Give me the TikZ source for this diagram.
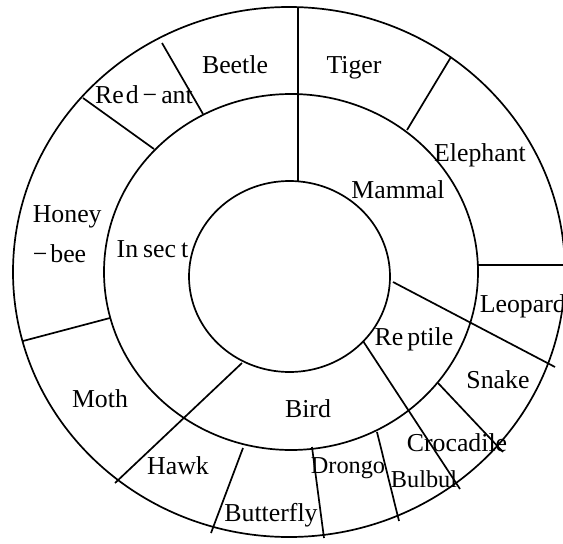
\documentclass[tikz,border=0pt]{standalone}
\usepackage{fontspec}
\setmainfont{Liberation Serif}
\begin{document}
\begin{tikzpicture}[x=1pt,y=-1pt,line width=1.7pt,
  lbl/.style={font=\fontsize{25.8}{30}\selectfont,inner sep=0pt,anchor=base},
  lblw/.style={lbl,anchor=base west},
  sml/.style={lbl,font=\fontsize{24.3}{29}\selectfont},
  divider/.style={line width=1.7pt}]
\useasboundingbox (0,0) rectangle (563,544);
% rings
\draw (289,272) ellipse [x radius=276, y radius=265];
\draw (291,272) ellipse [x radius=187, y radius=178];
\draw (289.5,276.5) ellipse [x radius=100.5, y radius=95.5];
% divider end points
\coordinate (v1) at (298,7);     \coordinate (v2) at (298,181);
\coordinate (ba1) at (162,43);   \coordinate (ba2) at (203,114);
\coordinate (ra1) at (83,98);    \coordinate (ra2) at (154,149);
\coordinate (hm1) at (23,341);   \coordinate (hm2) at (110,318);
\coordinate (ib1) at (242,363);  \coordinate (ib2) at (115,483);
\coordinate (hb1) at (243,448);  \coordinate (hb2) at (211,533);
\coordinate (bd1) at (312,447);  \coordinate (bd2) at (324,538);
\coordinate (db1) at (377,432);  \coordinate (db2) at (399,521);
\coordinate (br1) at (363,341);  \coordinate (br2) at (460,489);
\coordinate (cs1) at (438,383);  \coordinate (cs2) at (503,452);
\coordinate (rm1) at (393,282);  \coordinate (rm2) at (555,367);
\coordinate (le1) at (478,265);  \coordinate (le2) at (565,265);
\coordinate (et1) at (451,57);   \coordinate (et2) at (407,130);
\draw[divider] (v1) -- (v2);
\draw[divider] (ba1) -- (ba2);
\draw[divider] (ra1) -- (ra2);
\draw[divider] (hm1) -- (hm2);
\draw[divider] (ib1) -- (ib2);
\draw[divider] (hb1) -- (hb2);
\draw[divider] (bd1) -- (bd2);
\draw[divider] (db1) -- (db2);
\draw[divider] (br1) -- (br2);
\draw[divider] (cs1) -- (cs2);
\draw[divider] (rm1) -- (rm2);
\draw[divider] (le1) -- (le2);
\draw[divider] (et1) -- (et2);
% labels
\node[lbl] (beetle) at (235,73) {Beetle};
\node[lbl] (tiger) at (354,73) {Tiger};
\node[lbl] (redant) at (144,103) {Re\kern2pt d\kern4pt −\kern4pt ant};
\node[lblw] (honey) at (32,222) {Honey};
\node[lblw] (bee) at (32,262) {−\kern3pt bee};
\node[lbl] (insect) at (152.5,257) {In\kern5pt sec\kern5pt t};
\node[lbl] (mammal) at (398,198) {Mammal};
\node[lbl] (elephant) at (480,161) {Elephant};
\node[lblw] (leopard) at (479,312) {Leopard};
\node[lbl] (reptile) at (414,345) {Re\kern4pt ptile};
\node[lbl] (snake) at (498,388) {Snake};
\node[lbl] (croc) at (457,451) {Crocadile};
\node[sml] (bulbul) at (424,487) {Bulbul};
\node[sml] (drongo) at (348,473) {Drongo};
\node[lbl] (bird) at (308,417) {Bird};
\node[lbl] (moth) at (100,407) {Moth};
\node[lbl] (hawk) at (178,474) {Hawk};
\node[lbl] (butterfly) at (271,521) {Butterfly};
\end{tikzpicture}
\end{document}
